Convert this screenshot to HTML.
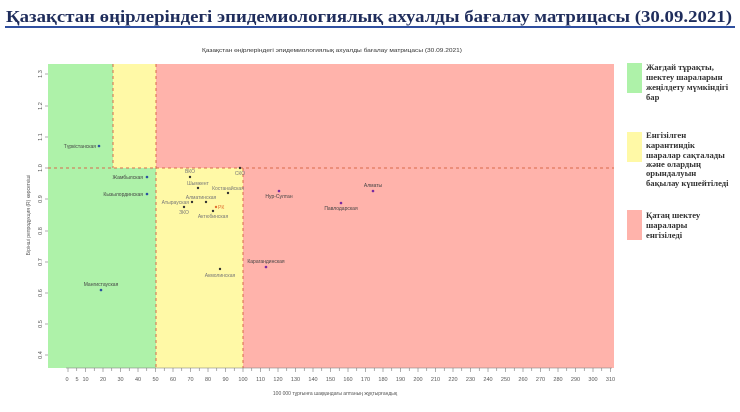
<!DOCTYPE html>
<html><head><meta charset="utf-8"><style>
html,body{margin:0;padding:0;background:#fff;}
svg{display:block;}
</style></head><body>
<svg width="740" height="412" xmlns="http://www.w3.org/2000/svg" font-family="Liberation Sans, sans-serif">
<rect width="740" height="412" fill="#fff"/>
<text x="6" y="22" font-family="Liberation Serif, serif" font-weight="bold" font-size="16.5" fill="#1f2d5c" textLength="726" lengthAdjust="spacingAndGlyphs">Қазақстан өңірлеріндегі эпидемиологиялық ахуалды бағалау матрицасы  (30.09.2021)</text>
<rect x="5" y="26" width="730" height="2" fill="#2f4f9f"/>
<text x="202" y="52" font-size="5.5" fill="#333" textLength="260" lengthAdjust="spacingAndGlyphs">Қазақстан өңірлеріндегі эпидемиологиялық ахуалды бағалау матрицасы  (30.09.2021)</text>
<rect x="48" y="64" width="566" height="304" fill="#ffb3ab"/>
<rect x="48" y="64" width="65" height="304" fill="#aef2a9"/>
<rect x="48" y="168" width="108" height="200" fill="#aef2a9"/>
<rect x="113" y="64" width="43" height="104" fill="#fff9a6"/>
<rect x="156" y="168" width="87" height="200" fill="#fff9a6"/>
<g stroke="#d86a4a" stroke-width="1" stroke-dasharray="3,3" fill="none">
<line x1="48" y1="168" x2="614" y2="168"/>
<line x1="113" y1="64" x2="113" y2="168"/>
<line x1="156" y1="64" x2="156" y2="368"/>
<line x1="243" y1="168" x2="243" y2="368"/>
</g>
<g stroke="#777" stroke-width="0.6">
<line x1="45" y1="74" x2="48" y2="74"/><line x1="45" y1="106" x2="48" y2="106"/><line x1="45" y1="137" x2="48" y2="137"/><line x1="45" y1="168" x2="48" y2="168"/><line x1="45" y1="199" x2="48" y2="199"/><line x1="45" y1="231" x2="48" y2="231"/><line x1="45" y1="262" x2="48" y2="262"/><line x1="45" y1="293" x2="48" y2="293"/><line x1="45" y1="324" x2="48" y2="324"/><line x1="45" y1="355" x2="48" y2="355"/>
</g>
<g font-size="5.5" fill="#555" text-anchor="middle">
<text transform="translate(42,74) rotate(-90)">1.3</text>
<text transform="translate(42,106) rotate(-90)">1.2</text>
<text transform="translate(42,137) rotate(-90)">1.1</text>
<text transform="translate(42,168) rotate(-90)">1.0</text>
<text transform="translate(42,199) rotate(-90)">0.9</text>
<text transform="translate(42,231) rotate(-90)">0.8</text>
<text transform="translate(42,262) rotate(-90)">0.7</text>
<text transform="translate(42,293) rotate(-90)">0.6</text>
<text transform="translate(42,324) rotate(-90)">0.5</text>
<text transform="translate(42,355) rotate(-90)">0.4</text>
<text transform="translate(30,215) rotate(-90)" font-size="5">Бірінші репродукция (R) көрсеткіші</text>
</g>
<line x1="66" y1="368" x2="612" y2="368" stroke="#777" stroke-width="0.6"/>
<g stroke="#777" stroke-width="0.6">
<line x1="68" y1="368" x2="68" y2="372"/><line x1="76.75" y1="368" x2="76.75" y2="371"/><line x1="85.5" y1="368" x2="85.5" y2="372"/><line x1="94.25" y1="368" x2="94.25" y2="371"/><line x1="103" y1="368" x2="103" y2="372"/><line x1="111.75" y1="368" x2="111.75" y2="371"/><line x1="120.5" y1="368" x2="120.5" y2="372"/><line x1="129.25" y1="368" x2="129.25" y2="371"/><line x1="138" y1="368" x2="138" y2="372"/><line x1="146.75" y1="368" x2="146.75" y2="371"/><line x1="155.5" y1="368" x2="155.5" y2="372"/><line x1="164.25" y1="368" x2="164.25" y2="371"/><line x1="173" y1="368" x2="173" y2="372"/><line x1="181.75" y1="368" x2="181.75" y2="371"/><line x1="190.5" y1="368" x2="190.5" y2="372"/><line x1="199.25" y1="368" x2="199.25" y2="371"/><line x1="208" y1="368" x2="208" y2="372"/><line x1="216.75" y1="368" x2="216.75" y2="371"/><line x1="225.5" y1="368" x2="225.5" y2="372"/><line x1="234.25" y1="368" x2="234.25" y2="371"/><line x1="243" y1="368" x2="243" y2="372"/><line x1="251.75" y1="368" x2="251.75" y2="371"/><line x1="260.5" y1="368" x2="260.5" y2="372"/><line x1="269.25" y1="368" x2="269.25" y2="371"/><line x1="278" y1="368" x2="278" y2="372"/><line x1="286.75" y1="368" x2="286.75" y2="371"/><line x1="295.5" y1="368" x2="295.5" y2="372"/><line x1="304.25" y1="368" x2="304.25" y2="371"/><line x1="313" y1="368" x2="313" y2="372"/><line x1="321.75" y1="368" x2="321.75" y2="371"/><line x1="330.5" y1="368" x2="330.5" y2="372"/><line x1="339.25" y1="368" x2="339.25" y2="371"/><line x1="348" y1="368" x2="348" y2="372"/><line x1="356.75" y1="368" x2="356.75" y2="371"/><line x1="365.5" y1="368" x2="365.5" y2="372"/><line x1="374.25" y1="368" x2="374.25" y2="371"/><line x1="383" y1="368" x2="383" y2="372"/><line x1="391.75" y1="368" x2="391.75" y2="371"/><line x1="400.5" y1="368" x2="400.5" y2="372"/><line x1="409.25" y1="368" x2="409.25" y2="371"/><line x1="418" y1="368" x2="418" y2="372"/><line x1="426.75" y1="368" x2="426.75" y2="371"/><line x1="435.5" y1="368" x2="435.5" y2="372"/><line x1="444.25" y1="368" x2="444.25" y2="371"/><line x1="453" y1="368" x2="453" y2="372"/><line x1="461.75" y1="368" x2="461.75" y2="371"/><line x1="470.5" y1="368" x2="470.5" y2="372"/><line x1="479.25" y1="368" x2="479.25" y2="371"/><line x1="488" y1="368" x2="488" y2="372"/><line x1="496.75" y1="368" x2="496.75" y2="371"/><line x1="505.5" y1="368" x2="505.5" y2="372"/><line x1="514.25" y1="368" x2="514.25" y2="371"/><line x1="523" y1="368" x2="523" y2="372"/><line x1="531.75" y1="368" x2="531.75" y2="371"/><line x1="540.5" y1="368" x2="540.5" y2="372"/><line x1="549.25" y1="368" x2="549.25" y2="371"/><line x1="558" y1="368" x2="558" y2="372"/><line x1="566.75" y1="368" x2="566.75" y2="371"/><line x1="575.5" y1="368" x2="575.5" y2="372"/><line x1="584.25" y1="368" x2="584.25" y2="371"/><line x1="593" y1="368" x2="593" y2="372"/><line x1="601.75" y1="368" x2="601.75" y2="371"/><line x1="610.5" y1="368" x2="610.5" y2="372"/>
</g>
<g font-size="5.5" fill="#555" text-anchor="middle">
<text x="67" y="381">0</text><text x="77" y="381">5</text><text x="85.5" y="381">10</text><text x="103" y="381">20</text><text x="120.5" y="381">30</text><text x="138" y="381">40</text><text x="155.5" y="381">50</text><text x="173" y="381">60</text><text x="190.5" y="381">70</text><text x="208" y="381">80</text><text x="225.5" y="381">90</text><text x="243" y="381">100</text><text x="260.5" y="381">110</text><text x="278" y="381">120</text><text x="295.5" y="381">130</text><text x="313" y="381">140</text><text x="330.5" y="381">150</text><text x="348" y="381">160</text><text x="365.5" y="381">170</text><text x="383" y="381">180</text><text x="400.5" y="381">190</text><text x="418" y="381">200</text><text x="435.5" y="381">210</text><text x="453" y="381">220</text><text x="470.5" y="381">230</text><text x="488" y="381">240</text><text x="505.5" y="381">250</text><text x="523" y="381">260</text><text x="540.5" y="381">270</text><text x="558" y="381">280</text><text x="575.5" y="381">290</text><text x="593" y="381">300</text><text x="610.5" y="381">310</text>
</g>
<text x="335" y="395" font-size="5" fill="#555" text-anchor="middle">100 000 тұрғынға шаққандағы аптаның жұқтырғандық</text>
<g font-size="5" fill="#444">
<circle cx="99" cy="146" r="1.3" fill="#2a4fa0"/><text x="96" y="148" text-anchor="end">Түркістанская</text>
<circle cx="147" cy="177" r="1.3" fill="#2a4fa0"/><text x="143" y="179" text-anchor="end">Жамбылская</text>
<circle cx="147" cy="194" r="1.3" fill="#2a4fa0"/><text x="143" y="196" text-anchor="end">Кызылординская</text>
<circle cx="101" cy="290" r="1.3" fill="#2a4fa0"/><text x="101" y="286" text-anchor="middle">Мангистауская</text>
<circle cx="190" cy="177" r="1.2" fill="#333"/><text x="190" y="173" text-anchor="middle" fill="#777">ВКО</text>
<circle cx="198" cy="188" r="1.2" fill="#333"/><text x="198" y="185" text-anchor="middle" fill="#777">Шымкент</text>
<circle cx="228" cy="193" r="1.2" fill="#333"/><text x="228" y="190" text-anchor="middle" fill="#777">Костанайская</text>
<circle cx="206" cy="202" r="1.2" fill="#333"/><text x="201" y="199" text-anchor="middle" fill="#777">Алматинская</text>
<circle cx="192" cy="202" r="1.2" fill="#333"/><text x="189" y="204" text-anchor="end" fill="#777">Атырауская</text>
<circle cx="184" cy="207" r="1.2" fill="#333"/><text x="184" y="214" text-anchor="middle" fill="#777">ЗКО</text>
<circle cx="216" cy="207" r="1.2" fill="#e07030"/><text x="218" y="209" fill="#e07030">РК</text>
<circle cx="213" cy="211" r="1.2" fill="#333"/><text x="213" y="218" text-anchor="middle" fill="#777">Актюбинская</text>
<circle cx="240" cy="168" r="1.2" fill="#333"/><text x="240" y="175" text-anchor="middle" fill="#777">СКО</text>
<circle cx="220" cy="269" r="1.2" fill="#333"/><text x="220" y="277" text-anchor="middle" fill="#777">Акмолинская</text>
<circle cx="279" cy="191" r="1.3" fill="#7a2aa0"/><text x="279" y="198" text-anchor="middle">Нур-Султан</text>
<circle cx="341" cy="203" r="1.3" fill="#7a2aa0"/><text x="341" y="210" text-anchor="middle">Павлодарская</text>
<circle cx="373" cy="191" r="1.3" fill="#7a2aa0"/><text x="373" y="187" text-anchor="middle">Алматы</text>
<circle cx="266" cy="267" r="1.3" fill="#7a2aa0"/><text x="266" y="263" text-anchor="middle">Карагандинская</text>
</g>
<rect x="627" y="63" width="15" height="30" fill="#aef2a9"/>
<rect x="627" y="132" width="15" height="30" fill="#fff9a6"/>
<rect x="627" y="210" width="15" height="30" fill="#ffb3ab"/>
<g font-family="Liberation Serif, serif" font-weight="bold" font-size="8.6" fill="#333">
<text x="646" y="70">Жағдай тұрақты,</text>
<text x="646" y="80">шектеу шараларын</text>
<text x="646" y="90">жеңілдету мүмкіндігі</text>
<text x="646" y="100">бар</text>
<text x="646" y="138">Енгізілген</text>
<text x="646" y="148">карантиндік</text>
<text x="646" y="158">шаралар сақталады</text>
<text x="646" y="167">және олардың</text>
<text x="646" y="176">орындалуын</text>
<text x="646" y="186">бақылау күшейтіледі</text>
<text x="646" y="218">Қатаң шектеу</text>
<text x="646" y="228">шаралары</text>
<text x="646" y="238">енгізіледі</text>
</g>
</svg>
</body></html>
